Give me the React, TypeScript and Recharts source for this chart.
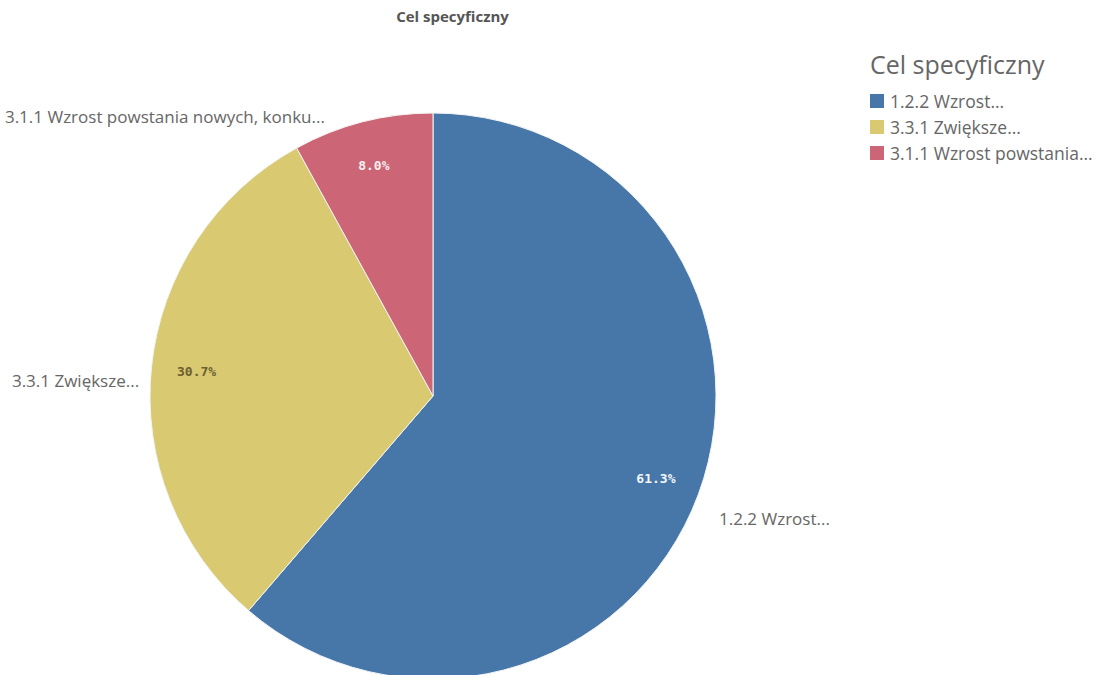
import { PieChart, Pie, Cell, Legend } from "recharts";

const categories = ["1.2.2 Wzrost...", "3.3.1 Zwiększe...", "3.1.1 Wzrost powstania..."];
const outerLabels = ["1.2.2 Wzrost...", "3.3.1 Zwiększe...", "3.1.1 Wzrost powstania nowych, konku..."];
const values = [61.3, 30.7, 8.0];

const COLORS = ["#4677A8", "#D9C971", "#CC6575"];
const PCT_COLORS = ["#f4f6fa", "#6b6030", "#f8f0f0"];

const data = categories.map((name, i) => ({ name, value: values[i] }));

const RADIAN = Math.PI / 180;

const renderLabel = (props: any) => {
  const { cx, cy, midAngle, outerRadius, percent, index } = props;
  const cos = Math.cos(-midAngle * RADIAN);
  const sin = Math.sin(-midAngle * RADIAN);
  const ri = outerRadius * 0.84;
  const ro = outerRadius + 22;
  // keep left-side labels clear of the pie near the top
  const dx = cos >= 0 ? 0 : -35 * sin * sin + 10 * cos * cos;
  return (
    <g>
      <text
        x={cx + ri * cos}
        y={cy + ri * sin}
        fill={PCT_COLORS[index]}
        textAnchor="middle"
        dominantBaseline="central"
        fontFamily="DejaVu Sans Mono"
        fontWeight="bold"
        fontSize={13}
      >
        {(percent * 100).toFixed(1)}%
      </text>
      <text
        x={cx + ro * cos + dx}
        y={cy + ro * sin + 16}
        fill="#666"
        textAnchor={cos >= 0 ? "start" : "end"}
        dominantBaseline="central"
        fontFamily="Open Sans"
        fontSize={17}
      >
        {outerLabels[index]}
      </text>
    </g>
  );
};

const renderLegend = () => (
  <div style={{ fontFamily: "Open Sans", color: "#666" }}>
    <div style={{ fontSize: 25, lineHeight: "32px", marginBottom: 8 }}>Cel specyficzny</div>
    {categories.map((name, i) => (
      <div key={name} style={{ display: "flex", alignItems: "center", height: 26, fontSize: 17.5, whiteSpace: "nowrap" }}>
        <span style={{ width: 14, height: 14, background: COLORS[i], marginRight: 6, display: "inline-block", flexShrink: 0 }} />
        {name}
      </div>
    ))}
  </div>
);

const App = () => {
  return (
    <div style={{ position: "fixed", left: 0, top: 0, width: 1099, height: 675, background: "#fff", overflow: "hidden" }}>
      <div
        style={{
          position: "absolute",
          top: 6,
          left: 0,
          width: 905,
          textAlign: "center",
          fontFamily: "Open Sans",
          fontWeight: "bold",
          fontSize: 15,
          color: "#555",
        }}
      >
        Cel specyficzny
      </div>
      <PieChart width={1099} height={675}>
        <Pie
          data={data}
          dataKey="value"
          nameKey="name"
          cx={428}
          cy={391}
          outerRadius={283}
          startAngle={90}
          endAngle={-270}
          stroke="#f4f4f4"
          strokeWidth={1}
          label={renderLabel}
          labelLine={false}
          isAnimationActive={false}
        >
          {data.map((entry, index) => (
            <Cell key={`cell-${index}`} fill={COLORS[index]} />
          ))}
        </Pie>
        <Legend
          layout="vertical"
          verticalAlign="top"
          align="right"
          content={renderLegend}
          wrapperStyle={{ position: "absolute", left: 870, top: 48, width: 229 }}
        />
      </PieChart>
    </div>
  );
};

export default App;
